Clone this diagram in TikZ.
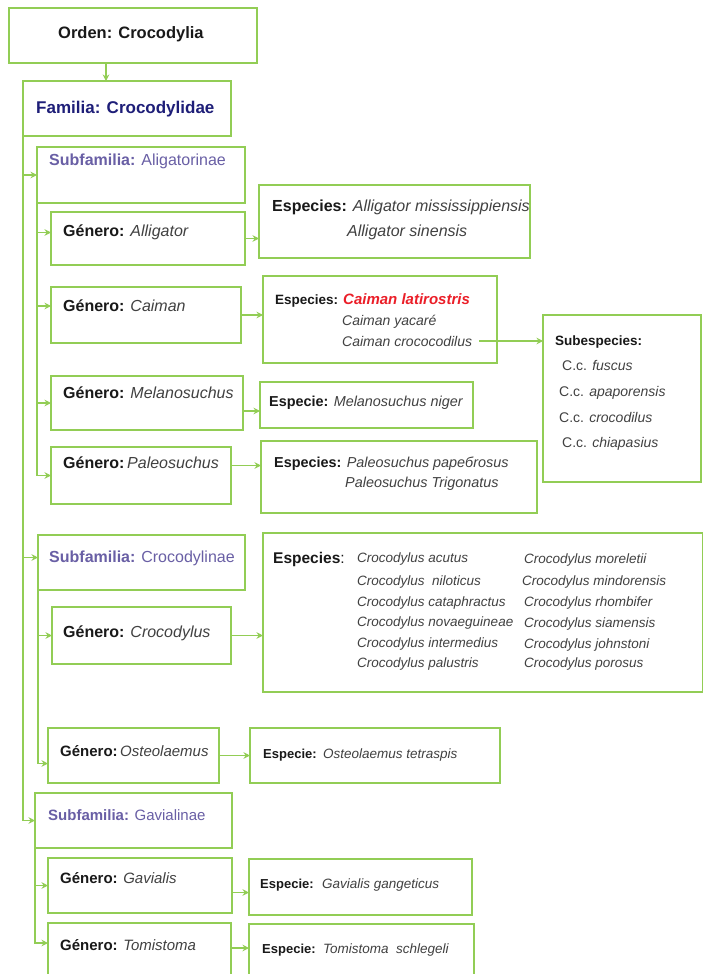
\documentclass[tikz,border=0pt]{standalone}
\usepackage{fontspec}
\setmainfont{Liberation Sans}
\usetikzlibrary{arrows.meta}

\definecolor{lgreen}{RGB}{146,205,85}
\definecolor{famblue}{RGB}{30,30,120}
\definecolor{subpurple}{RGB}{105,95,165}
\definecolor{ink}{RGB}{25,25,25}
\definecolor{grayink}{RGB}{65,65,65}
\definecolor{hired}{RGB}{235,30,40}

% font size helper
\newcommand{\fs}[1]{\fontsize{#1}{#1}\selectfont}
% a framed taxon box given by its corners (x1,y1) (x2,y2), y downwards
\newcommand{\boxat}[5]{\node[taxbox, minimum width={(#4-#2)*1pt}, minimum height={(#5-#3)*1pt}] (#1) at (#2,#3) {};}
% italic taxon name
\newcommand{\tn}[1]{{\color{grayink}\itshape #1}}

\begin{document}
\begin{tikzpicture}[x=1pt,y=-1pt,
  taxbox/.style={draw=lgreen, line width=2pt, anchor=north west, inner sep=0pt, outer sep=0pt},
  conn/.style={draw=lgreen, line width=1.9pt, -{Stealth[length=6.5pt,width=6.5pt]}},
  lbl/.style={anchor=base west, inner sep=0pt, text=ink}]

\path[use as bounding box, fill=white] (0,0) rectangle (703,974);
\clip (0,0) rectangle (703,974);

% ---- boxes ----
\boxat{orden}{9}{8}{257}{63}
\boxat{fam}{23}{81}{231}{136}
\boxat{subA}{37}{147}{245}{203}
\boxat{genAll}{51}{212}{245}{265}
\boxat{spAll}{259}{185}{530}{258}
\boxat{genCai}{51}{287}{241}{343}
\boxat{spCai}{263}{276}{497}{363}
\boxat{subsp}{543}{315}{701}{482}
\boxat{genMel}{51}{376}{243}{430}
\boxat{spMel}{260}{382}{473}{428}
\boxat{genPal}{51}{447}{231}{504}
\boxat{spPal}{261}{441}{537}{513}
\boxat{subC}{38}{535}{245}{590}
\boxat{spCro}{263}{533}{703}{692}
\boxat{genCro}{52}{607}{231}{664}
\boxat{genOst}{48}{728}{219}{783}
\boxat{spOst}{250}{728}{500}{783}
\boxat{subG}{35}{793}{232}{848}
\boxat{genGav}{48}{858}{232}{913}
\boxat{spGav}{249}{859}{472}{915}
\boxat{genTom}{48}{923}{231}{985}
\boxat{spTom}{249}{924}{474}{985}

% ---- labels ----
\node[lbl, font=\fs{16.5}\bfseries] (tOrden) at (58,38) {Orden: Crocodylia};
\node[lbl, font=\fs{17}\bfseries, text=famblue] (tFam) at (36,113) {Familia: Crocodylidae};

\node[lbl, font=\fs{16}, text=subpurple] (tSubA) at (49,165) {\textbf{Subfamilia:} Aligatorinae};
\node[lbl, font=\fs{16}] (tGenAll) at (63,236) {\textbf{Género:} \tn{Alligator}};
\node[lbl, font=\fs{16}] (tGenCai) at (63,311) {\textbf{Género:} \tn{Caiman}};
\node[lbl, font=\fs{16}] (tGenMel) at (63,398) {\textbf{Género:} \tn{Melanosuchus}};
\node[lbl, font=\fs{16}] (tGenPal) at (63,468) {\textbf{Género:}\,\tn{Paleosuchus}};

\node[lbl, font=\fs{16}] (tSpAll1) at (272,211) {\textbf{Especies:} \tn{Alligator mississippiensis}};
\node[lbl, font=\fs{16}] (tSpAll2) at (347,236) {\tn{Alligator sinensis}};

\node[lbl, font=\fs{13.5}\bfseries] (tSpCai0) at (275,304) {Especies:};
\node[lbl, font=\fs{15}\bfseries\itshape, text=hired] (tSpCai1) at (343,304) {Caiman latirostris};
\node[lbl, font=\fs{14}] (tSpCai2) at (342,325) {\tn{Caiman yacaré}};
\node[lbl, font=\fs{14}] (cc) at (342,346) {\tn{Caiman crococodilus}};

\node[lbl, font=\fs{13.5}\bfseries] (tSub0) at (555,345) {Subespecies:};
\node[lbl, font=\fs{14}, text=grayink] (tSub1) at (562,370) {C.c. \textit{fuscus}};
\node[lbl, font=\fs{14}, text=grayink] (tSub2) at (559,396) {C.c. \textit{apaporensis}};
\node[lbl, font=\fs{14}, text=grayink] (tSub3) at (559,422) {C.c. \textit{crocodilus}};
\node[lbl, font=\fs{14}, text=grayink] (tSub4) at (562,447) {C.c. \textit{chiapasius}};

\node[lbl, font=\fs{14.4}] (tSpMel) at (269,406) {\textbf{Especie:} \tn{Melanosuchus niger}};
\node[lbl, font=\fs{14.4}] (tSpPal1) at (274,467) {\textbf{Especies:} \tn{Paleosuchus papeбrosus}};
\node[lbl, font=\fs{14.4}] (tSpPal2) at (345,487) {\tn{Paleosuchus Trigonatus}};

\node[lbl, font=\fs{16}, text=subpurple] (tSubC) at (49,562) {\textbf{Subfamilia:} Crocodylinae};
\node[lbl, font=\fs{16}] (tGenCro) at (63,637) {\textbf{Género:} \tn{Crocodylus}};

\node[lbl, font=\fs{15.5}] (tSpCro0) at (273,563) {\textbf{Especies}:};
\node[lbl, font=\fs{13.5}] (c1a) at (357,562) {\tn{Crocodylus acutus}};
\node[lbl, font=\fs{13.5}] (c1b) at (357,585) {\tn{Crocodylus\ \ niloticus}};
\node[lbl, font=\fs{13.5}] (c1c) at (357,606) {\tn{Crocodylus cataphractus}};
\node[lbl, font=\fs{13.5}] (c1d) at (357,626) {\tn{Crocodylus novaeguineae}};
\node[lbl, font=\fs{13.5}] (c1e) at (357,647) {\tn{Crocodylus intermedius}};
\node[lbl, font=\fs{13.5}] (c1f) at (357,667) {\tn{Crocodylus palustris}};
\node[lbl, font=\fs{13.5}] (c2a) at (524,563) {\tn{Crocodylus moreletii}};
\node[lbl, font=\fs{13.5}] (c2b) at (522,585) {\tn{Crocodylus mindorensis}};
\node[lbl, font=\fs{13.5}] (c2c) at (524,606) {\tn{Crocodylus rhombifer}};
\node[lbl, font=\fs{13.5}] (c2d) at (524,627) {\tn{Crocodylus siamensis}};
\node[lbl, font=\fs{13.5}] (c2e) at (524,648) {\tn{Crocodylus johnstoni}};
\node[lbl, font=\fs{13.5}] (c2f) at (524,667) {\tn{Crocodylus porosus}};

\node[lbl, font=\fs{15}] (tGenOst) at (60,756) {\textbf{Género:}\,\tn{Osteolaemus}};
\node[lbl, font=\fs{13}\bfseries] (tSpOst0) at (263,758) {Especie:};
\node[lbl, font=\fs{13.5}] (tSpOst1) at (323,758) {\tn{Osteolaemus tetraspis}};

\node[lbl, font=\fs{15}, text=subpurple] (tSubG) at (48,820) {\textbf{Subfamilia:} Gavialinae};
\node[lbl, font=\fs{15}] (tGenGav) at (60,883) {\textbf{Género:} \tn{Gavialis}};
\node[lbl, font=\fs{13}\bfseries] (tSpGav0) at (260,888) {Especie:};
\node[lbl, font=\fs{13.5}] (tSpGav1) at (322,888) {\tn{Gavialis gangeticus}};
\node[lbl, font=\fs{15}] (tGenTom) at (60,950) {\textbf{Género:} \tn{Tomistoma}};
\node[lbl, font=\fs{13}\bfseries] (tSpTom0) at (262,953) {Especie:};
\node[lbl, font=\fs{13.5}] (tSpTom1) at (323,953) {\tn{Tomistoma\ \ schlegeli}};

% ---- connectors ----
\coordinate (o2f) at (106,63);
\draw[conn] (o2f) -- (o2f |- fam.north);

% family trunk
\draw[conn] (fam.south west) |- (subA.west);
\draw[conn] (fam.south west) |- ([yshift=5pt]subC.west);
\draw[conn] (fam.south west) |- (subG.west);

% subfamily trunks
\draw[conn] (subA.south west) |- ([yshift=6pt]genAll.west);
\draw[conn] (subA.south west) |- ([yshift=9pt]genCai.west);
\draw[conn] (subA.south west) |- (genMel.west);
\draw[conn] (subA.south west) |- (genPal.west);
\draw[conn] (subC.south west) |- (genCro.west);
\draw[conn] (subC.south west) |- ([yshift=-8pt]genOst.west);
\draw[conn] (subG.south west) |- (genGav.west);
\draw[conn] (subG.south west) |- ([yshift=11pt]genTom.west);

% genus to species
\draw[conn] (genAll.east) -- (genAll.east -| spAll.west);
\draw[conn] (genCai.east) -- (genCai.east -| spCai.west);
\draw[conn] ([yshift=-8pt]genMel.east) -- ([yshift=-8pt]genMel.east -| spMel.west);
\draw[conn] ([yshift=10pt]genPal.east) -- ([yshift=10pt]genPal.east -| spPal.west);
\draw[conn] (genCro.east) -- (genCro.east -| spCro.west);
\draw[conn] (genOst.east) -- (genOst.east -| spOst.west);
\draw[conn] ([yshift=-7pt]genGav.east) -- ([yshift=-7pt]genGav.east -| spGav.west);
\draw[conn] ([yshift=6pt]genTom.east) -- ([yshift=6pt]genTom.east -| spTom.west);

% species to subspecies
\draw[conn] ([xshift=7pt]cc.east) -- (cc.east -| subsp.west);

\end{tikzpicture}
\end{document}
